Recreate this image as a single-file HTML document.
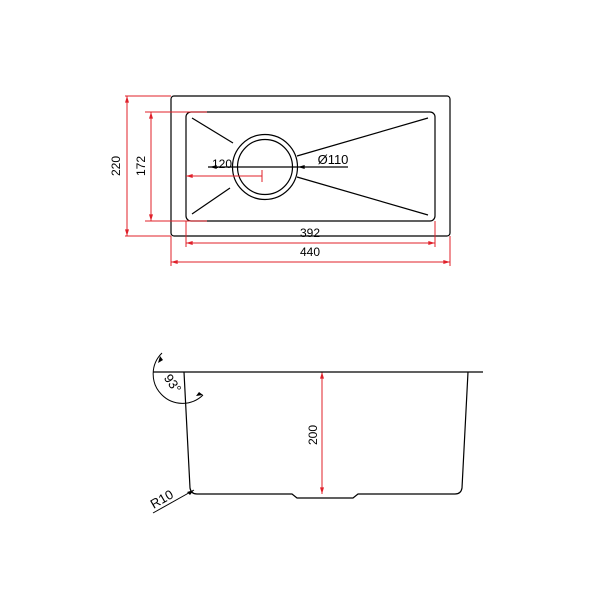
<!DOCTYPE html>
<html><head><meta charset="utf-8"><style>html,body{margin:0;padding:0;background:#fff}svg{display:block}</style></head>
<body>
<svg width="600" height="600" viewBox="0 0 600 600" xmlns="http://www.w3.org/2000/svg" font-family="Liberation Sans, sans-serif">
<defs>
<marker id="ar" viewBox="0 0 10 6" refX="10" refY="3" markerWidth="7" markerHeight="4" orient="auto-start-reverse"><path d="M0,0L10,3L0,6z" fill="#e0202a"/></marker>
<marker id="ab" viewBox="0 0 10 6" refX="10" refY="3" markerWidth="7" markerHeight="4" orient="auto-start-reverse"><path d="M0,0L10,3L0,6z" fill="#000"/></marker>
</defs>
<g fill="none" stroke="#000" stroke-width="1.2">
<rect x="171" y="96" width="279" height="140" rx="3"/>
<rect x="186" y="112" width="249" height="109" rx="5"/>
<circle cx="265" cy="167" r="32.5"/>
<circle cx="265" cy="167" r="27.5"/>
<line x1="192" y1="118" x2="233" y2="143"/>
<line x1="192" y1="214" x2="230" y2="188"/>
<line x1="297" y1="156" x2="428" y2="118"/>
<line x1="297" y1="177" x2="428" y2="215"/>
<line x1="208" y1="167" x2="348" y2="167"/>
</g>
<line x1="220" y1="167" x2="210" y2="167" stroke="#000" marker-end="url(#ab)"/>
<line x1="310" y1="167" x2="298" y2="167" stroke="#000" marker-end="url(#ab)"/>
<g stroke="#e0202a" stroke-width="1" fill="none">
<line x1="125" y1="96" x2="171" y2="96"/><line x1="125" y1="236" x2="171" y2="236"/>
<line x1="127" y1="96" x2="127" y2="236" marker-start="url(#ar)" marker-end="url(#ar)"/>
<line x1="145" y1="112" x2="207" y2="112"/><line x1="145" y1="221" x2="207" y2="221"/>
<line x1="151" y1="112" x2="151" y2="221" marker-start="url(#ar)" marker-end="url(#ar)"/>
<line x1="171" y1="236" x2="171" y2="266"/><line x1="450" y1="236" x2="450" y2="266"/>
<line x1="186" y1="221" x2="186" y2="247"/><line x1="435" y1="221" x2="435" y2="247"/>
<line x1="186" y1="243" x2="435" y2="243" marker-start="url(#ar)" marker-end="url(#ar)"/>
<line x1="171" y1="262" x2="450" y2="262" marker-start="url(#ar)" marker-end="url(#ar)"/>
<line x1="186" y1="176" x2="262" y2="176" marker-start="url(#ar)"/>
<line x1="262" y1="170" x2="262" y2="182"/>
<line x1="322" y1="372" x2="322" y2="494" marker-start="url(#ar)" marker-end="url(#ar)"/>
</g>
<g font-size="12" fill="#000" text-anchor="middle">
<text x="310" y="237">392</text>
<text x="310" y="256">440</text>
<text x="222" y="168">120</text>
<text x="333" y="164" font-size="13">Ø110</text>
<text transform="translate(120,166) rotate(-90)">220</text>
<text transform="translate(145,166) rotate(-90)">172</text>
<text transform="translate(317,435) rotate(-90)">200</text>
<text transform="translate(169,386) rotate(55)" font-size="13">93°</text>
<text transform="translate(164,503) rotate(-30)" font-size="13">R10</text>
</g>
<g fill="none" stroke="#000" stroke-width="1.2">
<line x1="153" y1="372" x2="483" y2="372"/>
<path d="M184,372 L190,488 Q191,494 197,494 L292,494 L297,498 L353,498 L358,494 L455,494 Q461,494 462,488 L468,372"/>
<path d="M162,353 A27,27 0 0 0 203,395" stroke-width="1"/>
<line x1="153" y1="513" x2="194" y2="490" stroke-width="1"/>
</g>
<path d="M160,356 l-2,7 l5,-3z M203,395 l-7,1 l3,-4z M194,490 l-7,2 l3,3z" fill="#000"/>
</svg>
</body></html>
